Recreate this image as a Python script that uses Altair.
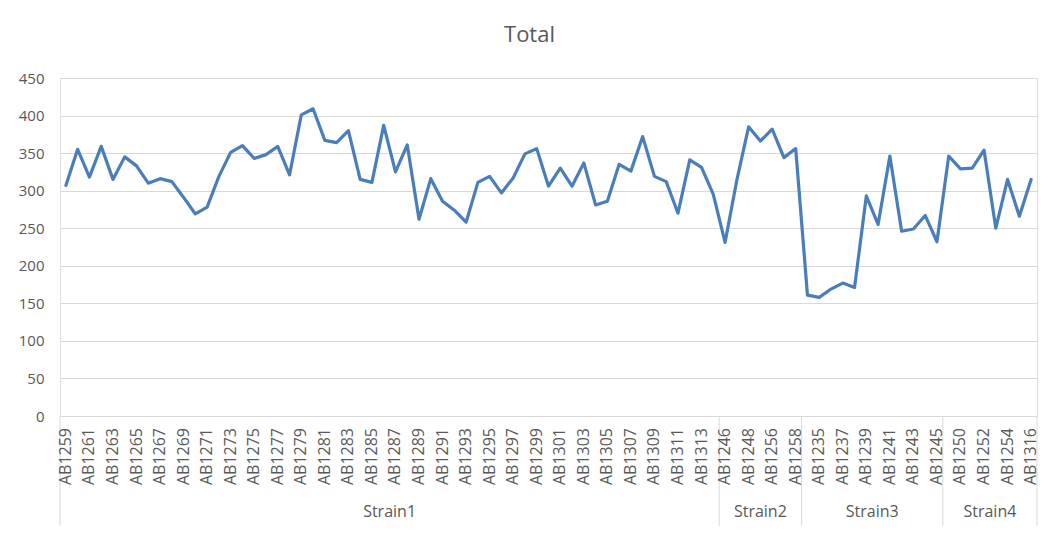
import altair as alt
import pandas as pd

strain1 = ["AB1259", "AB1260", "AB1261", "AB1262", "AB1263", "AB1264", "AB1265", "AB1266",
           "AB1267", "AB1268", "AB1269", "AB1270", "AB1271", "AB1272", "AB1273", "AB1274",
           "AB1275", "AB1276", "AB1277", "AB1278", "AB1279", "AB1280", "AB1281", "AB1282",
           "AB1283", "AB1284", "AB1285", "AB1286", "AB1287", "AB1288", "AB1289", "AB1290",
           "AB1291", "AB1292", "AB1293", "AB1294", "AB1295", "AB1296", "AB1297", "AB1298",
           "AB1299", "AB1300", "AB1301", "AB1302", "AB1303", "AB1304", "AB1305", "AB1306",
           "AB1307", "AB1308", "AB1309", "AB1310", "AB1311", "AB1312", "AB1313", "AB1314"]
strain2 = ["AB1246", "AB1247", "AB1248", "AB1255", "AB1256", "AB1257", "AB1258"]
strain3 = ["AB1234", "AB1235", "AB1236", "AB1237", "AB1238", "AB1239", "AB1240", "AB1241",
           "AB1242", "AB1243", "AB1244", "AB1245"]
strain4 = ["AB1249", "AB1250", "AB1251", "AB1252", "AB1253", "AB1254", "AB1315", "AB1316"]

group_names = ["Strain1", "Strain2", "Strain3", "Strain4"]
groups = [strain1, strain2, strain3, strain4]

values = [307, 355, 318, 359, 315, 345, 333, 310, 316, 312,
          291, 269, 278, 319, 351, 360, 343, 348, 359, 321,
          401, 409, 367, 364, 380, 315, 311, 387, 325, 361,
          262, 316, 286, 274, 258, 311, 319, 297, 317, 349,
          356, 306, 330, 306, 337, 281, 286, 335, 326, 372,
          319, 312, 270, 341, 331, 295,
          231, 314, 385, 366, 382, 344, 356,
          161, 158, 169, 177, 171, 293, 255, 346, 246, 249, 267, 232,
          346, 329, 330, 354, 250, 315, 266, 315]

names = [n for g in groups for n in g]
strain_of = [gn for gn, g in zip(group_names, groups) for _ in g]
df = pd.DataFrame({"idx": list(range(len(names))), "name": names,
                   "strain": strain_of, "total": values})

# group boundaries and centers
bounds = [-0.5]
centers = []
start = 0
for g in groups:
    end = start + len(g)
    bounds.append(end - 0.5)
    centers.append((start - 0.5 + end - 0.5) / 2)
    start = end
bound_df = pd.DataFrame({"idx": bounds})
center_df = pd.DataFrame({"idx": centers, "label": group_names})

N = len(names)
FONT = "Open Sans"
TXT = "#595959"
GRID = "#D9D9D9"
W, H = 977, 338

xscale = alt.Scale(domain=[-0.5, N - 0.5], nice=False, zero=False)

line = alt.Chart(df).mark_line(color="#4A7EBB", strokeWidth=3.2,
                               strokeJoin="round", strokeCap="round").encode(
    x=alt.X("idx:Q", scale=xscale, title=None,
            axis=alt.Axis(values=[0], labels=False, ticks=False, grid=False,
                          domainColor=GRID, domainWidth=1)),
    y=alt.Y("total:Q", scale=alt.Scale(domain=[0, 450], nice=False), title=None,
            axis=alt.Axis(values=list(range(0, 451, 50)), domain=False, ticks=False,
                          grid=True, gridColor=GRID, gridWidth=1,
                          labelFont=FONT, labelFontSize=15, labelColor=TXT,
                          labelPadding=16)),
)

xlabels = alt.Chart(df).transform_filter("datum.idx % 2 == 0").mark_text(
    font=FONT, fontSize=16, color=TXT, angle=270, align="right", baseline="middle"
).encode(
    x=alt.X("idx:Q", scale=xscale, title=None),
    y=alt.value(H + 12),
    text="name:N",
)

seps = alt.Chart(bound_df).mark_rule(color=GRID, strokeWidth=1).encode(
    x=alt.X("idx:Q", scale=xscale, title=None),
    y=alt.value(H),
    y2=alt.value(H + 110),
)

glabels = alt.Chart(center_df).mark_text(font=FONT, fontSize=16, color=TXT,
                                         baseline="middle", align="center").encode(
    x=alt.X("idx:Q", scale=xscale, title=None),
    y=alt.value(H + 96),
    text="label:N",
)

chart = alt.layer(line, seps, xlabels, glabels).properties(
    width=W, height=H,
    title=alt.TitleParams("Total", font=FONT, fontSize=22, fontWeight="normal",
                          color=TXT, anchor="middle", dx=-19, offset=24),
    autosize=alt.AutoSizeParams(type="none"),
    padding={"left": 52, "top": 70, "right": 8, "bottom": 112},
).configure_view(stroke=None).configure(background="white")

chart.save("out.html", embed_options={"renderer": "svg", "actions": False})
